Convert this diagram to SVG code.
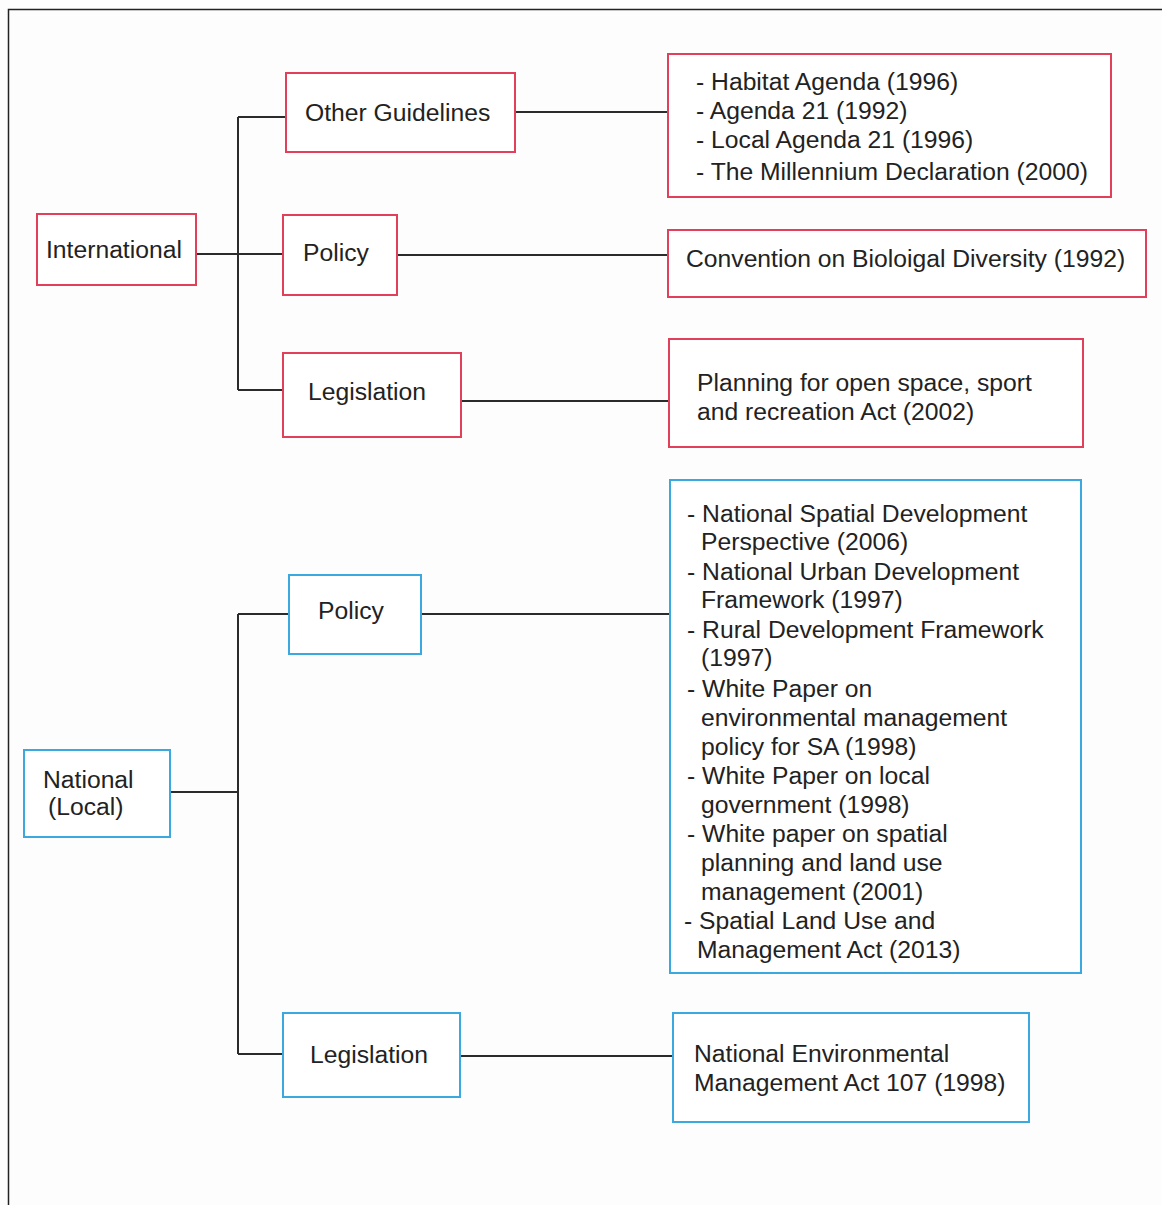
<svg xmlns="http://www.w3.org/2000/svg" width="1162" height="1205" viewBox="0 0 1162 1205">
  <style>
    .frame { fill: none; stroke: #222; stroke-width: 1.5; }
    .red { fill: #fff; stroke: #e0405a; stroke-width: 2; }
    .blue { fill: #fff; stroke: #3ba9df; stroke-width: 2; }
    .wire { fill: none; stroke: #2b2b2b; stroke-width: 2; }
    text { font-family: "Liberation Sans", Arial, sans-serif; font-size: 24.7px; fill: #222; }
  </style>
  <rect width="1162" height="1205" fill="#fdfdfd"/>
  <path class="frame" d="M8.5,1205 V9.5 H1162"/>

  <g id="connectors">
    <!-- international branch -->
    <path class="wire" d="M238,117 V390"/>
    <path class="wire" d="M238,117 H286"/>
    <path class="wire" d="M196,254 H283"/>
    <path class="wire" d="M238,390 H283"/>
    <path class="wire" d="M515,112 H668"/>
    <path class="wire" d="M397,255 H668"/>
    <path class="wire" d="M461,401 H669"/>
    <!-- national branch -->
    <path class="wire" d="M238,614 V1054"/>
    <path class="wire" d="M238,614 H289"/>
    <path class="wire" d="M170,792 H238"/>
    <path class="wire" d="M238,1054 H283"/>
    <path class="wire" d="M421,614 H670"/>
    <path class="wire" d="M460,1056 H673"/>
  </g>

  <g id="international">
    <rect class="red" x="37" y="214" width="159" height="71"/>
    <text x="46" y="258">International</text>
  </g>
  <g id="other-guidelines">
    <rect class="red" x="286" y="73" width="229" height="79"/>
    <text x="305" y="121">Other Guidelines</text>
  </g>
  <g id="intl-policy">
    <rect class="red" x="283" y="215" width="114" height="80"/>
    <text x="303" y="261">Policy</text>
  </g>
  <g id="intl-legislation">
    <rect class="red" x="283" y="353" width="178" height="84"/>
    <text x="308" y="400">Legislation</text>
  </g>
  <g id="guidelines-list">
    <rect class="red" x="668" y="54" width="443" height="143"/>
    <text x="696" y="90">- Habitat Agenda (1996)</text>
    <text x="696" y="119">- Agenda 21 (1992)</text>
    <text x="696" y="148">- Local Agenda 21 (1996)</text>
    <text x="696" y="180">- The Millennium Declaration (2000)</text>
  </g>
  <g id="convention">
    <rect class="red" x="668" y="230" width="478" height="67"/>
    <text x="686" y="267">Convention on Bioloigal Diversity (1992)</text>
  </g>
  <g id="planning-act">
    <rect class="red" x="669" y="339" width="414" height="108"/>
    <text x="697" y="391">Planning for open space, sport</text>
    <text x="697" y="420">and recreation Act (2002)</text>
  </g>

  <g id="national">
    <rect class="blue" x="24" y="750" width="146" height="87"/>
    <text x="43" y="788">National</text>
    <text x="48" y="815">(Local)</text>
  </g>
  <g id="natl-policy">
    <rect class="blue" x="289" y="575" width="132" height="79"/>
    <text x="318" y="619">Policy</text>
  </g>
  <g id="natl-legislation">
    <rect class="blue" x="283" y="1013" width="177" height="84"/>
    <text x="310" y="1063">Legislation</text>
  </g>
  <g id="policy-list">
    <rect class="blue" x="670" y="480" width="411" height="493"/>
    <text x="687" y="522">- National Spatial Development</text>
    <text x="701" y="550">Perspective (2006)</text>
    <text x="687" y="580">- National Urban Development</text>
    <text x="701" y="608">Framework (1997)</text>
    <text x="687" y="638">- Rural Development Framework</text>
    <text x="701" y="666">(1997)</text>
    <text x="687" y="697">- White Paper on</text>
    <text x="701" y="726">environmental management</text>
    <text x="701" y="755">policy for SA (1998)</text>
    <text x="687" y="784">- White Paper on local</text>
    <text x="701" y="813">government (1998)</text>
    <text x="687" y="842">- White paper on spatial</text>
    <text x="701" y="871">planning and land use</text>
    <text x="701" y="900">management (2001)</text>
    <text x="684" y="929">- Spatial Land Use and</text>
    <text x="697" y="958">Management Act (2013)</text>
  </g>
  <g id="nema">
    <rect class="blue" x="673" y="1013" width="356" height="109"/>
    <text x="694" y="1062">National Environmental</text>
    <text x="694" y="1091">Management Act 107 (1998)</text>
  </g>
</svg>
